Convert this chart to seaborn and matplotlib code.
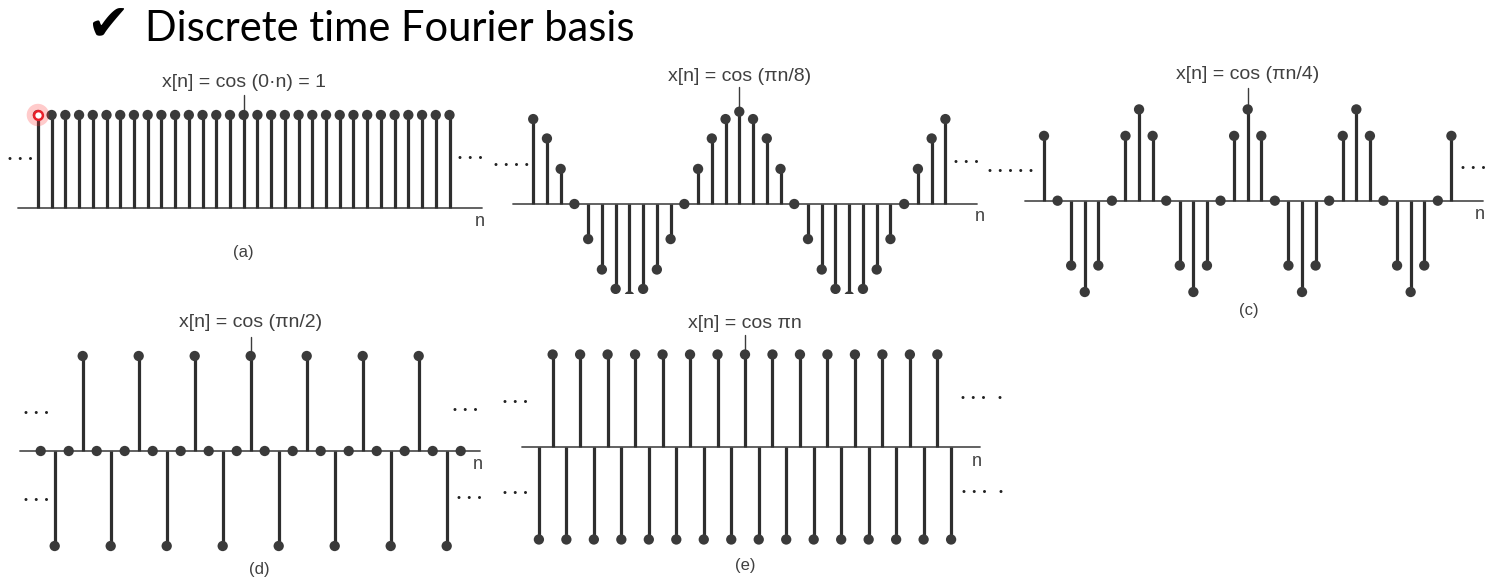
import numpy as np
import matplotlib
matplotlib.use("Agg")
import matplotlib.pyplot as plt
import seaborn as sns

sns.set_style("white")
plt.rcParams['font.family'] = ['Liberation Sans', 'DejaVu Sans']

# sample index n = -15 .. 15
n = [-15, -14, -13, -12, -11, -10, -9, -8, -7, -6, -5, -4, -3, -2, -1, 0,
     1, 2, 3, 4, 5, 6, 7, 8, 9, 10, 11, 12, 13, 14, 15]

# values
x_a = [1, 1, 1, 1, 1, 1, 1, 1, 1, 1, 1, 1, 1, 1, 1, 1,
       1, 1, 1, 1, 1, 1, 1, 1, 1, 1, 1, 1, 1, 1, 1]
x_b = [0.92, 0.71, 0.38, 0, -0.38, -0.71, -0.92, -1, -0.92, -0.71, -0.38, 0, 0.38, 0.71, 0.92, 1,
       0.92, 0.71, 0.38, 0, -0.38, -0.71, -0.92, -1, -0.92, -0.71, -0.38, 0, 0.38, 0.71, 0.92]
x_c = [0.71, 0, -0.71, -1, -0.71, 0, 0.71, 1, 0.71, 0, -0.71, -1, -0.71, 0, 0.71, 1,
       0.71, 0, -0.71, -1, -0.71, 0, 0.71, 1, 0.71, 0, -0.71, -1, -0.71, 0, 0.71]
x_d = [0, -1, 0, 1, 0, -1, 0, 1, 0, -1, 0, 1, 0, -1, 0, 1,
       0, -1, 0, 1, 0, -1, 0, 1, 0, -1, 0, 1, 0, -1, 0]
x_e = [-1, 1, -1, 1, -1, 1, -1, 1, -1, 1, -1, 1, -1, 1, -1, 1,
       -1, 1, -1, 1, -1, 1, -1, 1, -1, 1, -1, 1, -1, 1, -1]

titles = ['x[n] = cos (0·n) = 1', 'x[n] = cos (πn/8)', 'x[n] = cos (πn/4)',
          'x[n] = cos (πn/2)', 'x[n] = cos πn']
panel_labels = ['(a)', None, '(c)', '(d)', '(e)']
series = [x_a, x_b, x_c, x_d, x_e]

W, H = 1509, 588
fig = plt.figure(figsize=(W / 100, H / 100), dpi=100)

D3 = '•  •  •'
# pixel placement of each panel: n=0 x-pixel, px per sample, baseline y-pixel, px per unit
layout = [
    dict(x0=243.7, dx=13.72, y0=207.7, amp=92.7, axis=(-16.45, 17.37), ylim=(-1.4, 1.5),
         ty=1.35, tick=1.22, ld=[(-16.3, 0.52, D3)], rd=[(16.5, 0.54, D3)],
         nl=(17.2, -0.15), pl=(0, -0.48)),
    dict(x0=739.3, dx=13.74, y0=204.0, amp=92.3, axis=(-16.47, 17.3), ylim=(-0.97, 1.5),
         ty=1.38, tick=1.27, ld=[(-16.6, 0.42, '•  •  •  •')], rd=[(16.5, 0.45, D3)],
         nl=(17.5, -0.14), pl=None),
    dict(x0=1247.7, dx=13.58, y0=200.7, amp=91.3, axis=(-16.4, 17.3), ylim=(-1.4, 1.5),
         ty=1.38, tick=1.23, ld=[(-17.5, 0.33, '•  •  •  •  •')], rd=[(16.6, 0.36, D3)],
         nl=(17.1, -0.15), pl=(0.1, -1.2)),
    dict(x0=250.7, dx=14.0, y0=451.0, amp=95.0, axis=(-16.5, 16.4), ylim=(-1.4, 1.5),
         ty=1.35, tick=1.2, ld=[(-15.3, 0.4, D3), (-15.3, -0.52, D3)],
         rd=[(15.3, 0.43, D3), (15.6, -0.49, D3)],
         nl=(16.2, -0.14), pl=(0.6, -1.25)),
    dict(x0=745.0, dx=13.74, y0=447.0, amp=92.5, axis=(-16.2, 17.1), ylim=(-1.4, 1.5),
         ty=1.34, tick=1.21, ld=[(-16.7, 0.49, D3), (-16.7, -0.5, D3)],
         rd=[(17.2, 0.53, '•  •  •    •'), (17.3, -0.49, '•  •  •    •')],
         nl=(16.9, -0.16), pl=(0, -1.28)),
]

ink = '#2e2e2e'
for vals, title, plab, L in zip(series, titles, panel_labels, layout):
    xlim = (-19.5, 19.5)
    ylim = L['ylim']
    left = (L['x0'] + xlim[0] * L['dx']) / W
    width = (xlim[1] - xlim[0]) * L['dx'] / W
    top = (L['y0'] - ylim[1] * L['amp']) / H
    bottom = (L['y0'] - ylim[0] * L['amp']) / H
    ax = fig.add_axes([left, 1 - bottom, width, bottom - top])
    ax.set_facecolor('none')
    ax.set_xlim(xlim)
    ax.set_ylim(ylim)
    ax.axis('off')

    # baseline (n axis)
    ax.plot(L['axis'], [0, 0], color='#555555', lw=1.3, zorder=1)
    # stems + heads
    ax.vlines(n, 0, vals, color=ink, lw=2.3, zorder=2)
    sns.scatterplot(x=n, y=vals, ax=ax, color='#3a3a3a', s=55, edgecolor='none',
                    zorder=3, legend=False)

    # title with pointer to n = 0
    ax.text(0, L['ty'], title, ha='center', va='center', fontsize=14, color='#404040')
    ax.plot([0, 0], [1.0, L['tick']], color='#3c3c3c', lw=1.0, zorder=1)

    for (xx, yy, s) in L['ld'] + L['rd']:
        ax.text(xx, yy, s, ha='center', va='center', fontsize=8, color='#222222')
    ax.text(L['nl'][0], L['nl'][1], 'n', ha='center', va='center', fontsize=13,
            color='#404040')
    if plab:
        ax.text(L['pl'][0], L['pl'][1], plab, ha='center', va='center', fontsize=12,
                color='#404040')

# laser-pointer highlight on first sample of panel (a)
ax_a = fig.axes[0]
ax_a.scatter([-15], [1], s=260, color='#ff3030', alpha=0.25, edgecolor='none', zorder=4)
ax_a.scatter([-15], [1], s=40, facecolor='white', edgecolor='#e8202a', lw=1.8, zorder=5)

fig.text(86 / W, 1 - 26 / H, '✔', fontsize=37, va='center', ha='left',
         family='DejaVu Sans', color='black')
fig.text(145 / W, 1 - 29 / H, 'Discrete time Fourier basis', fontsize=30,
         va='center', ha='left', family='Lato', color='black')

fig.savefig('out.png', dpi=100)
